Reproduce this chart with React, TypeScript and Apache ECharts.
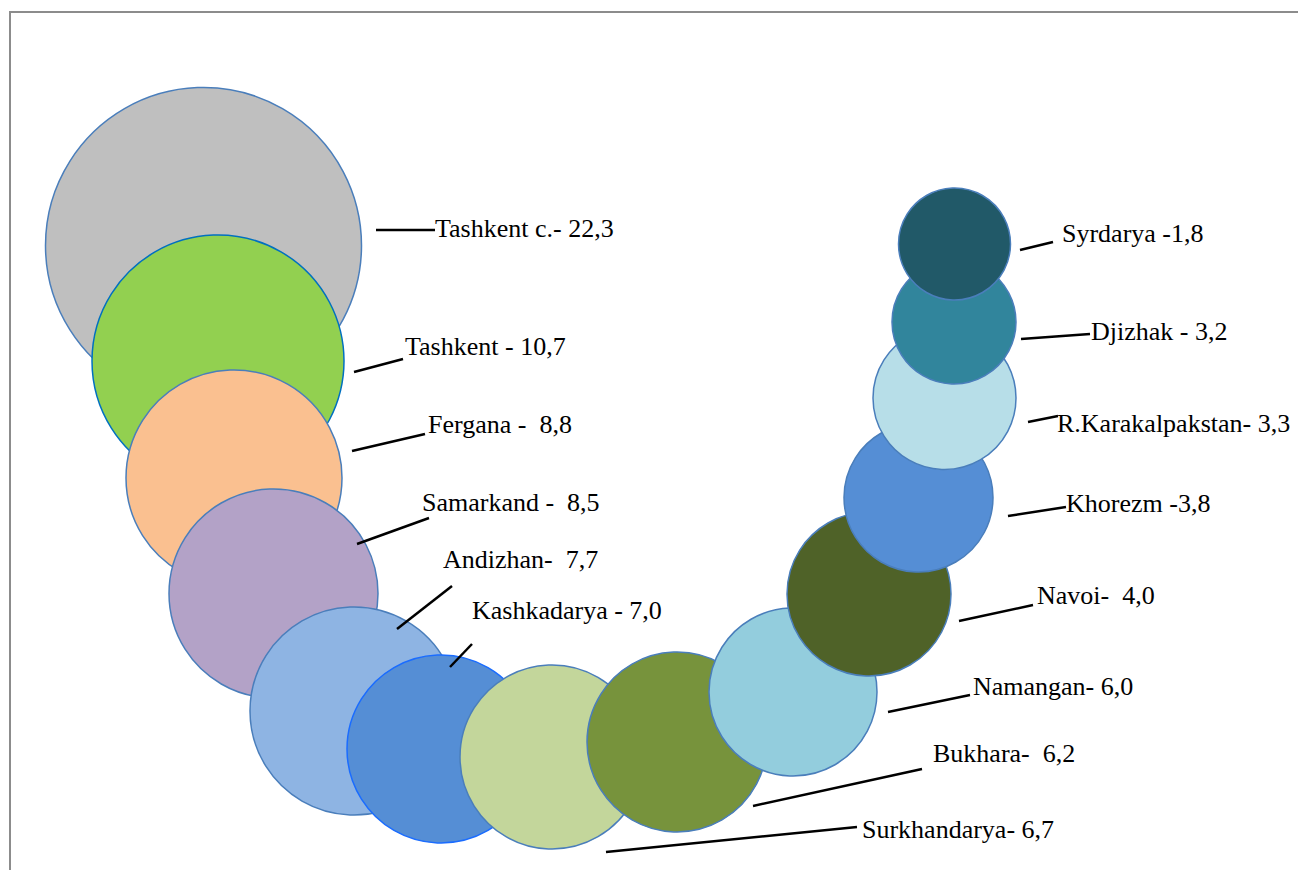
import React, { useEffect, useRef } from "react";
import * as echarts from "echarts";

// ---- data ----
const regions = [
  "Tashkent c.", "Tashkent", "Fergana", "Samarkand", "Andizhan", "Kashkadarya",
  "Surkhandarya", "Bukhara", "Namangan", "Navoi", "Khorezm", "R.Karakalpakstan",
  "Djizhak", "Syrdarya",
];
const shares = [22.3, 10.7, 8.8, 8.5, 7.7, 7.0, 6.7, 6.2, 6.0, 4.0, 3.8, 3.3, 3.2, 1.8];
const separators = ["- ", " - ", " -  ", " -  ", "-  ", " - ", "- ", "-  ", "- ", "-  ", " -", "- ", " - ", " -"];
// bubble chart dimensions (hidden axes units)
const bubbleX = [20.35, 21.8, 23.4, 27.35, 35.4, 44.1, 55.2, 67.7, 79.3, 86.9, 91.85, 94.45, 95.4, 95.45];
const bubbleY = [62.45, 50.9, 39.2, 27.65, 15.9, 12.1, 11.3, 12.8, 17.8, 27.6, 37.25, 47.2, 54.8, 62.6];
const bubbleSize = [31.6, 25.2, 21.6, 20.9, 20.8, 18.8, 18.4, 18.0, 16.8, 16.4, 14.9, 14.3, 12.4, 11.2];

// ---- styles / layout ----
const fills = [
  "#BFBFBF", "#92D050", "#FAC090", "#B3A2C7", "#8EB4E3", "#558ED5", "#C3D69B",
  "#77933C", "#93CDDD", "#4F6228", "#558ED5", "#B7DEE8", "#31859C", "#215968",
];
const borders = [
  "#4A7EBB", "#0070C0", "#4A7EBB", "#4A7EBB", "#4A7EBB", "#1A6CFF", "#4A7EBB",
  "#4A7EBB", "#4A7EBB", "#4A7EBB", "#4A7EBB", "#4A7EBB", "#4A7EBB", "#4A7EBB",
];
// leader line start (x,y), end (x,y), label anchor (x,y) in axis units
const leaderLayout = [
  [37.6, 64.0, 43.5, 64.0, 43.5, 64.2],
  [35.4, 49.8, 40.3, 51.1, 40.5, 52.4],
  [35.2, 41.9, 42.5, 43.6, 42.8, 44.6],
  [35.7, 32.6, 42.9, 35.2, 42.2, 36.8],
  [39.7, 24.1, 45.2, 28.4, 44.3, 31.1],
  [45.0, 20.3, 47.2, 22.6, 47.2, 26.0],
  [60.6, 1.8, 85.7, 4.3, 86.2, 4.1],
  [75.3, 6.4, 92.2, 10.1, 93.3, 11.7],
  [88.8, 15.8, 97.0, 17.5, 97.3, 18.4],
  [95.9, 24.9, 103.3, 26.5, 103.7, 27.5],
  [100.8, 35.4, 106.6, 36.3, 106.6, 36.7],
  [102.8, 44.8, 105.8, 45.4, 105.7, 44.7],
  [102.1, 53.1, 109.0, 53.6, 109.1, 53.9],
  [102.0, 62.0, 105.3, 62.8, 106.2, 63.7],
];

const fmt = (v: number) => v.toFixed(1).replace(".", ",");
const labelText = (i: number) => regions[i] + separators[i] + fmt(shares[i]);

export default function App() {
  const ref = useRef<HTMLDivElement>(null);
  useEffect(() => {
    if (!ref.current) return;
    const chart = echarts.init(ref.current, undefined, { renderer: "svg" });
    chart.setOption({
      animation: false,
      backgroundColor: "#FFFFFF",
      grid: { left: 0, top: 0, right: 0, bottom: 0 },
      xAxis: { type: "value", min: 0, max: 129.8, show: false },
      yAxis: { type: "value", min: 0, max: 87, show: false },
      graphic: [
        {
          type: "rect",
          silent: true,
          z: 100,
          shape: { x: 10, y: 12, width: 1400, height: 1000 },
          style: { fill: "transparent", stroke: "#8C8C8C", lineWidth: 2 },
        },
      ],
      series: [
        {
          type: "scatter",
          silent: true,
          emphasis: { disabled: true },
          symbol: "circle",
          symbolSize: (v: number[]) => v[2] * 10,
          data: regions.map((name, i) => ({
            name,
            value: [bubbleX[i], bubbleY[i], bubbleSize[i]],
            itemStyle: {
              color: fills[i],
              borderColor: borders[i],
              borderWidth: 1.5,
              opacity: 1,
            },
          })),
          z: 2,
        },
        {
          type: "custom",
          silent: true,
          z: 5,
          clip: false,
          data: leaderLayout,
          encode: { x: 0, y: 1 },
          renderItem: (params: any, api: any) => {
            const i = params.dataIndex;
            const L = leaderLayout[i];
            const p1 = api.coord([L[0], L[1]]);
            const p2 = api.coord([L[2], L[3]]);
            const t = api.coord([L[4], L[5]]);
            return {
              type: "group",
              children: [
                {
                  type: "line",
                  shape: { x1: p1[0], y1: p1[1], x2: p2[0], y2: p2[1] },
                  style: { stroke: "#000000", lineWidth: 2.5 },
                },
                {
                  type: "text",
                  x: t[0],
                  y: t[1],
                  style: {
                    text: labelText(i),
                    fill: "#000000",
                    fontSize: 26,
                    fontFamily: '"Liberation Serif", "Times New Roman", serif',
                    align: "left",
                    verticalAlign: "middle",
                  },
                },
              ],
            };
          },
        },
      ],
    });
    return () => chart.dispose();
  }, []);
  return (
    <div
      ref={ref}
      style={{ position: "fixed", left: 0, top: 0, width: 1298, height: 870, background: "#fff" }}
    />
  );
}
